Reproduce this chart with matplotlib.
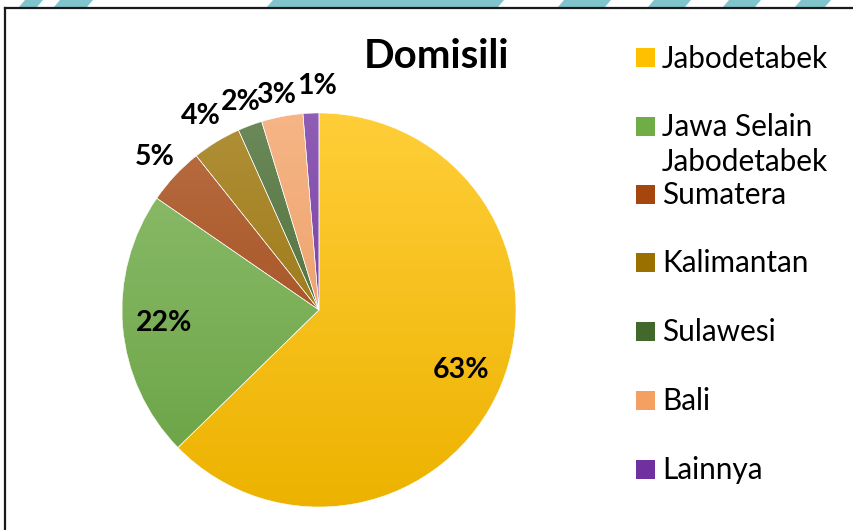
import numpy as np
import matplotlib
matplotlib.use('Agg')
import matplotlib.pyplot as plt
from matplotlib.patches import Rectangle, Polygon
from matplotlib.colors import to_rgb

plt.rcParams['font.family'] = ['Lato', 'DejaVu Sans']

# data
labels = ['Jabodetabek', 'Jawa Selain\nJabodetabek', 'Sumatera', 'Kalimantan',
          'Sulawesi', 'Bali', 'Lainnya']
values = [62.7, 21.9, 4.7, 4.0, 2.0, 3.4, 1.3]
colors = ['#FFC000', '#70AD47', '#A5460F', '#9A7100', '#43682B', '#F4A063', '#7030A0']

# label placement (radial distance and small sideways nudge)
label_dist = [0.78, 0.79, 1.14, 1.15, 1.13, 1.11, 1.14]
label_dx = [0, 0, 0, 0, 0, -0.01, 0.035]

W, H = 854, 530
fig = plt.figure(figsize=(W / 100, H / 100), dpi=100)
fig.patch.set_facecolor('white')

# watermark stripes at the very top
stripes = [(25, 43), (60, 93), (273, 504), (564, 611), (654, 691), (729, 761), (801, 831)]
for x0, x1 in stripes:
    poly = Polygon([(x0 / W, 1), (x1 / W, 1), ((x1 - 6) / W, 1 - 7 / H), ((x0 - 6) / W, 1 - 7 / H)],
                   closed=True, transform=fig.transFigure, facecolor='#80C4CC', edgecolor='none')
    fig.patches.append(poly)

# chart border (top and left)
fig.add_artist(plt.Line2D([5 / W, 1], [1 - 7.5 / H, 1 - 7.5 / H], transform=fig.transFigure,
                          color='#1a1a1a', lw=1.6))
fig.add_artist(plt.Line2D([5.5 / W, 5.5 / W], [0, 1 - 7.5 / H], transform=fig.transFigure,
                          color='#1a1a1a', lw=1.6))

# pie axes: centre (319, 310) px, radius 197 px
cx, cy, r = 319, 310, 197
ax = fig.add_axes([(cx - r) / W, (H - cy - r) / H, 2 * r / W, 2 * r / H])
wedges, _ = ax.pie(values, colors=colors, startangle=90, counterclock=False,
                   radius=1, wedgeprops=dict(edgecolor='white', linewidth=0.4))
ax.set_xlim(-1, 1)
ax.set_ylim(-1, 1)
ax.set_aspect('equal')
ax.axis('off')


def shade(c, f):
    c = np.array(to_rgb(c))
    if f >= 0:
        return c + (1 - c) * f
    return c * (1 + f)


# soft vertical gradient inside each slice
grad = np.linspace(0, 1, 256)[:, None]
for w, c in zip(wedges, colors):
    top = shade(c, 0.22)
    bot = shade(c, -0.07)
    img = top[None, None, :] * (1 - grad[:, :, None]) + bot[None, None, :] * grad[:, :, None]
    im = ax.imshow(img, extent=(-1, 1, -1, 1), origin='upper', aspect='auto', zorder=1)
    im.set_clip_path(w)
    w.set_zorder(2)
    w.set_facecolor('none')

for w, v, d, dx in zip(wedges, values, label_dist, label_dx):
    ang = np.deg2rad((w.theta1 + w.theta2) / 2)
    ax.text(d * np.cos(ang) + dx, d * np.sin(ang), '%.0f%%' % v, ha='center', va='center',
            fontsize=20.5, fontweight='bold', color='black', zorder=5)

fig.text(437 / W, 1 - 56 / H, 'Domisili', ha='center', va='center', fontsize=29,
         fontweight='bold', color='black')

# legend drawn by hand
leg_y = [57.5, 126, 194, 262, 331, 400, 469]
for lab, c, y in zip(labels, colors, leg_y):
    fig.patches.append(Rectangle((636 / W, 1 - (y + 9.5) / H), 19 / W, 19 / H,
                                 transform=fig.transFigure, facecolor=c, edgecolor='none'))
    fig.text(662 / W, 1 - (y - 13) / H, lab, ha='left', va='top', fontsize=21.4,
             color='black', linespacing=1.3)

fig.savefig('out.png', dpi=100)
